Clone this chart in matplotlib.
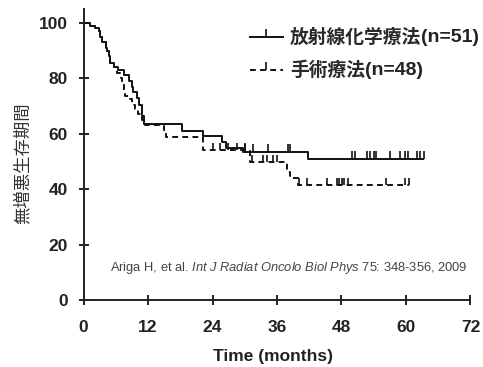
import numpy as np
import matplotlib
matplotlib.use("Agg")
import matplotlib.pyplot as plt
from matplotlib.path import Path
from matplotlib.lines import Line2D

plt.rcParams['font.family'] = ['Liberation Sans', 'Noto Sans CJK JP']
plt.rcParams['mathtext.fontset'] = 'custom'
plt.rcParams['mathtext.rm'] = 'Liberation Sans'
plt.rcParams['mathtext.it'] = 'Liberation Sans:italic'
plt.rcParams['mathtext.bf'] = 'Liberation Sans:bold'

# ---- data ----
crt_times = [0, 1.3, 2.2, 2.8, 3.1, 3.4, 4.1, 4.3, 4.7, 5.0, 5.6, 6.5, 7.5, 8.4, 9.0,
             9.3, 9.9, 10.3, 10.8, 11.2, 18.3, 22.2, 25.7, 26.6, 29.7, 41.8]
crt_surv = [100, 99, 98, 97, 95, 93, 91, 90, 88, 85.5, 84, 83, 81, 79, 77,
            75, 73, 70.5, 66.5, 63.5, 61, 59, 57, 55, 53.5, 51]
crt_end = 63.4
crt_censor = [30.0, 31.5, 34.3, 38.0, 38.5, 50.0, 50.5, 52.8, 53.3, 54.0, 54.5,
              57.0, 58.9, 59.8, 60.4, 62.0, 62.6, 63.4]

surg_times = [0, 1.3, 2.2, 2.8, 3.1, 3.4, 4.1, 4.3, 4.7, 5.0, 5.6, 6.2, 6.9, 7.1, 7.5,
              7.8, 8.4, 9.0, 9.6, 10.2, 10.8, 11.4, 14.9, 15.4, 22.2, 31.0, 37.9, 38.4, 40.0]
surg_surv = [100, 99, 98, 97, 95, 93, 91, 90, 88, 85.5, 84, 82, 80, 78, 75,
             73.5, 72.5, 70.5, 69, 67, 65, 63, 60.5, 58.8, 54, 49.8, 46, 44, 41.5]
surg_end = 60.5
surg_censor = [24.0, 25.4, 26.9, 28.5, 30.0, 31.3, 33.4, 34.1, 35.3, 36.0, 40.1, 41.6,
               45.3, 47.2, 47.6, 48.1, 48.5, 49.3, 56.2, 59.9, 60.5]

legend_labels = ['放射線化学療法', '手術療法']
legend_n = ['(n=51)', '(n=48)']
xticks = [0, 12, 24, 36, 48, 60, 72]
yticks = [0, 20, 40, 60, 80, 100]
citation = 'Ariga H, et al. $\\it{Int\\ J\\ Radiat\\ Oncolo\\ Biol\\ Phys}$ 75: 348-356, 2009'

# ---- figure ----
fig = plt.figure(figsize=(4.83, 3.67), dpi=100)
ax = fig.add_axes([0.1729, 0.1826, 0.8012, 0.793])

def draw(times, surv, end, censors, ls):
    t = list(times) + [end]
    s = list(surv) + [surv[-1]]
    ax.step(t, s, where='post', color='#111111', lw=1.4, linestyle=ls,
            solid_capstyle='butt')
    times_a = np.asarray(times)
    surv_a = np.asarray(surv)
    idx = np.searchsorted(times_a, censors, side='right') - 1
    cs = surv_a[idx]
    ax.vlines(censors, cs, cs + 2.6, color='#111111', lw=1.2)

draw(crt_times, crt_surv, crt_end, crt_censor, '-')
draw(surg_times, surg_surv, surg_end, surg_censor, (0, (3, 2.2)))

ax.set_xlim(0, 72)
ax.set_ylim(0, 105)
ax.spines['top'].set_visible(False)
ax.spines['right'].set_visible(False)
for sp in ('left', 'bottom'):
    ax.spines[sp].set_linewidth(1.4)
    ax.spines[sp].set_color('#222222')
ax.set_xticks(xticks)
ax.set_yticks(yticks)
ax.tick_params(axis='both', direction='inout', length=7, width=1.4, color='#222222')
ax.tick_params(axis='x', pad=11)
ax.tick_params(axis='y', pad=8)
for lab in ax.get_xticklabels() + ax.get_yticklabels():
    lab.set_fontweight('bold')
    lab.set_fontsize(12.5)
    lab.set_color('#222222')
for lab in ax.get_xticklabels():
    lab.set_clip_on(False)

ax.set_xlabel('Time (months)', fontsize=12.5, fontweight='bold', color='#222222')
ax.xaxis.set_label_coords(0.49, -0.169)
ax.set_ylabel('無増悪生存期間', fontsize=12.5, color='#333333',
              family=['Noto Sans CJK JP'])
ax.yaxis.set_label_coords(-0.134, 0.47)

ax.text(0.068, 0.11, citation, transform=ax.transAxes, fontsize=9.3,
        color='#444444', va='center', ha='left')

tick_marker = Path([(0, 0), (0, 1)])
h1 = Line2D([], [], color='#111111', lw=1.4, ls='-', marker=tick_marker,
            markersize=11, markeredgewidth=1.2, markeredgecolor='#111111')
h2 = Line2D([], [], color='#111111', lw=1.4, ls=(0, (3, 2.2)), marker=tick_marker,
            markersize=11, markeredgewidth=1.2, markeredgecolor='#111111')
leg = ax.legend([h1, h2], legend_labels, loc='upper left', bbox_to_anchor=(0.43, 0.934),
                frameon=False, borderpad=0, borderaxespad=0, handlelength=1.76,
                handletextpad=0.37, labelspacing=0.76, numpoints=1,
                prop={'family': ['Noto Sans CJK JP'], 'size': 13.5, 'weight': 'bold'})
leg.set_zorder(5)
for txt, n in zip(leg.get_texts(), legend_n):
    txt.set_color('#2a2a2a')
    ax.annotate(n, xy=(1, 0.5), xycoords=txt, xytext=(0, 0), textcoords='offset points',
                ha='left', va='center', fontsize=14, fontweight='bold', color='#222222',
                family=['Liberation Sans'], annotation_clip=False, zorder=10)

fig.savefig('out.png', dpi=100)
